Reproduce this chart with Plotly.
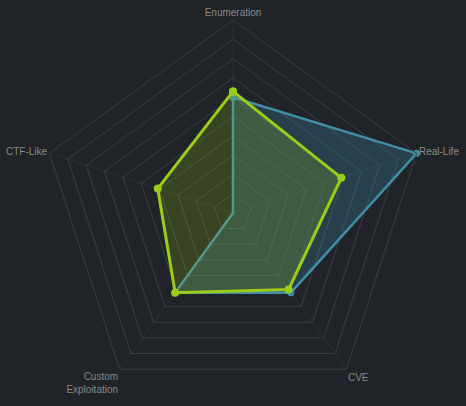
import plotly.graph_objects as go

# Axes of the radar, clockwise from the top
categories = ["Enumeration", "Real-Life", "CVE", "Custom<br>Exploitation", "CTF-Like"]

# Series values (scale 0-10)
blue_values = [6.0, 10.0, 5.1, 5.1, 0.0]
green_values = [6.3, 5.9, 4.9, 5.1, 4.1]

BG = "#202327"

fig = go.Figure()

# Blue series
fig.add_trace(go.Scatterpolar(
    r=blue_values + blue_values[:1],
    theta=categories + categories[:1],
    mode="lines+markers",
    fill="toself",
    fillcolor="rgba(58,140,168,0.28)",
    line=dict(color="#3f8ea8", width=2.5),
    marker=dict(color="#3f8ea8", size=7),
    name="Blue",
    hoverinfo="skip"))

# Green series
fig.add_trace(go.Scatterpolar(
    r=green_values + green_values[:1],
    theta=categories + categories[:1],
    mode="lines+markers",
    fill="toself",
    fillcolor="rgba(160,200,30,0.2)",
    line=dict(color="#9ccc16", width=3),
    marker=dict(color="#9ccc16", size=8),
    name="Green",
    hoverinfo="skip"))

fig.update_layout(
    width=466,
    height=406,
    paper_bgcolor=BG,
    plot_bgcolor=BG,
    showlegend=False,
    margin=dict(l=0, r=0, t=20, b=0),
    font=dict(family="Arial", size=10, color="#8a8a8a"),
    polar=dict(
        bgcolor=BG,
        gridshape="linear",
        domain=dict(x=[0, 1], y=[0, 1]),
        radialaxis=dict(range=[0, 10],
                        dtick=1,
                        showticklabels=False,
                        ticks="",
                        showline=False,
                        gridcolor="#3a3d42",
                        gridwidth=1),
        angularaxis=dict(rotation=90,
                         direction="clockwise",
                         ticks="",
                         showline=True,
                         linecolor="#3a3d42",
                         gridcolor="#2c2f34",
                         tickfont=dict(size=10, color="#8a8a8a"))))

# drop the page's default body margin so the figure sits at 0,0
fig.write_html("out.html",
               config=dict(displayModeBar=False),
               post_script="document.body.style.margin='0';"
                           "document.body.style.background='" + BG + "';")
